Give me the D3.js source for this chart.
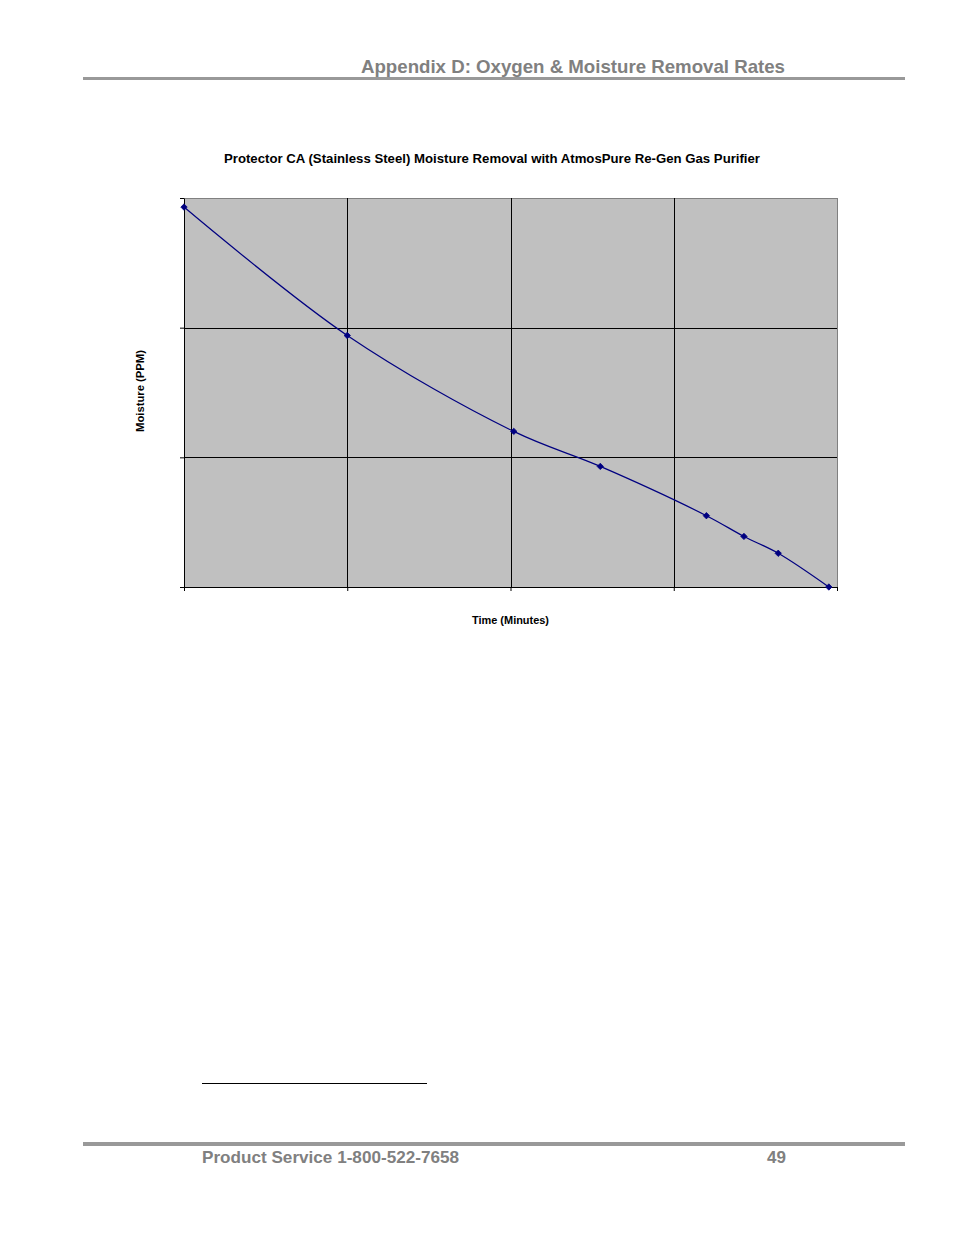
<!DOCTYPE html>
<html><head><meta charset="utf-8">
<script src="https://cdn.jsdelivr.net/npm/d3@7"></script>
<style>body{margin:0;background:#fff}svg{display:block}</style>
</head><body>
<svg id="c" width="954" height="1235"></svg>
<script>
// Data (no tick labels shown in the original; relative units)
const timeMinutes = [0, 10.0, 20.2, 25.5, 32.0, 34.3, 36.4, 39.5];
const moisturePPM = [2.93, 1.94, 1.20, 0.93, 0.55, 0.39, 0.26, 0.0];
const xTicks = [0, 10, 20, 30, 40];
const yTicks = [0, 1, 2, 3];

const svg = d3.select("#c");
const font = "'Liberation Sans', Arial, sans-serif";

// page header
svg.append("text").attr("x", 361).attr("y", 73)
  .attr("font-family", font).attr("font-weight", "bold").attr("font-size", 18.5)
  .attr("textLength", 424).attr("lengthAdjust", "spacingAndGlyphs")
  .attr("fill", "#808080").text("Appendix D: Oxygen & Moisture Removal Rates");
svg.append("rect").attr("x", 83).attr("y", 77).attr("width", 822).attr("height", 3).attr("fill", "#999");

// footer
svg.append("line").attr("x1", 202).attr("x2", 427).attr("y1", 1083.5).attr("y2", 1083.5)
  .attr("stroke", "#000").attr("stroke-width", 1);
svg.append("rect").attr("x", 83).attr("y", 1142).attr("width", 822).attr("height", 4).attr("fill", "#999");
svg.append("text").attr("x", 202).attr("y", 1163)
  .attr("font-family", font).attr("font-weight", "bold").attr("font-size", 17)
  .attr("textLength", 257).attr("lengthAdjust", "spacingAndGlyphs")
  .attr("fill", "#808080").text("Product Service 1-800-522-7658");
svg.append("text").attr("x", 786).attr("y", 1163).attr("text-anchor", "end")
  .attr("font-family", font).attr("font-weight", "bold").attr("font-size", 17)
  .attr("fill", "#808080").text("49");

// chart
const L = 184, R = 837, T = 198, B = 587;
const x = d3.scaleLinear().domain([0, 40]).range([L, R]);
const y = d3.scaleLinear().domain([0, 3]).range([B, T]);

svg.append("text").attr("x", 224).attr("y", 163)
  .attr("font-family", font).attr("font-weight", "bold").attr("font-size", 12.5)
  .attr("textLength", 536).attr("lengthAdjust", "spacingAndGlyphs")
  .attr("fill", "#000").text("Protector CA (Stainless Steel) Moisture Removal with AtmosPure Re-Gen Gas Purifier");

svg.append("rect").attr("x", L + 0.5).attr("y", T + 0.5).attr("width", R - L).attr("height", B - T)
  .attr("fill", "#c0c0c0").attr("stroke", "#808080").attr("stroke-width", 1);

const g = svg.append("g");
// gridlines
g.selectAll(".vg").data(xTicks.slice(1, -1)).join("line")
  .attr("x1", d => Math.round(x(d)) + 0.5).attr("x2", d => Math.round(x(d)) + 0.5)
  .attr("y1", T).attr("y2", B).attr("stroke", "#000");
g.selectAll(".hg").data(yTicks.slice(1, -1)).join("line")
  .attr("y1", d => Math.round(y(d)) + 0.5).attr("y2", d => Math.round(y(d)) + 0.5)
  .attr("x1", L).attr("x2", R).attr("stroke", "#000");

// axes
const xAxis = d3.axisBottom(x).tickValues(xTicks).tickSize(4).tickSizeOuter(0).tickFormat("");
const yAxis = d3.axisLeft(y).tickValues(yTicks).tickSize(4).tickSizeOuter(0).tickFormat("");
svg.append("g").attr("transform", `translate(0,${B})`).call(xAxis)
  .call(a => a.selectAll("path,line").attr("stroke", "#000"));
svg.append("g").attr("transform", `translate(${L},0)`).call(yAxis)
  .call(a => a.selectAll("path,line").attr("stroke", "#000"));

// axis titles
svg.append("text").attr("x", 472).attr("y", 624)
  .attr("font-family", font).attr("font-weight", "bold").attr("font-size", 10)
  .attr("textLength", 77).attr("lengthAdjust", "spacingAndGlyphs")
  .text("Time (Minutes)");
svg.append("text").attr("transform", "translate(144,432) rotate(-90)")
  .attr("font-family", font).attr("font-weight", "bold").attr("font-size", 10)
  .attr("textLength", 82).attr("lengthAdjust", "spacingAndGlyphs")
  .text("Moisture (PPM)");

// series
const pts = timeMinutes.map((t, i) => [t, moisturePPM[i]]);
const line = d3.line().x(d => x(d[0])).y(d => y(d[1])).curve(d3.curveCatmullRom.alpha(0.5));
svg.append("path").datum(pts).attr("d", line).attr("fill", "none")
  .attr("stroke", "#000080").attr("stroke-width", 1.2);
svg.selectAll(".pt").data(pts).join("path")
  .attr("transform", d => `translate(${x(d[0])},${y(d[1])})`)
  .attr("d", d3.symbol(d3.symbolDiamond2, 26)).attr("fill", "#000080")
  .attr("stroke", "#000080").attr("stroke-width", 0.8).attr("stroke-linejoin", "round");
</script>
</body></html>
